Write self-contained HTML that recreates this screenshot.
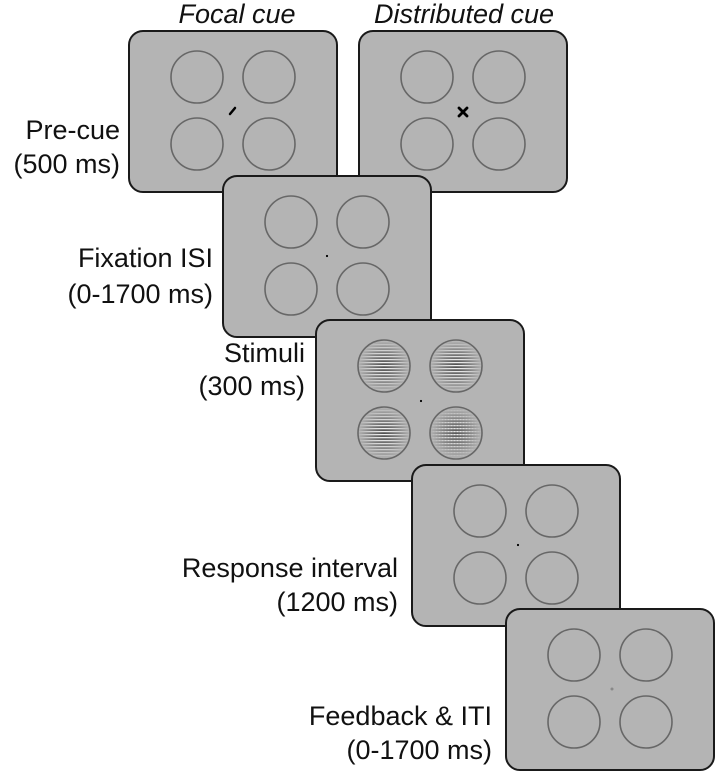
<!DOCTYPE html>
<html><head><meta charset="utf-8"><style>
html,body{margin:0;padding:0;background:#fff;}
svg{display:block;}
text{font-family:"Liberation Sans",sans-serif;fill:#111;}
</style></head><body>
<svg width="718" height="773" viewBox="0 0 718 773" xmlns="http://www.w3.org/2000/svg">
<defs>
  <pattern id="hs" width="6" height="3" patternUnits="userSpaceOnUse">
    <rect width="6" height="3" fill="#b5b5b5"/>
    <rect y="0" width="6" height="1.2" fill="#f4f4f4"/>
    <rect y="1.5" width="6" height="1.2" fill="#222"/>
  </pattern>
  <pattern id="ps" width="3" height="3" patternUnits="userSpaceOnUse">
    <rect width="3" height="3" fill="#b5b5b5"/>
    <rect y="0" width="3" height="1.2" fill="#eee"/>
    <rect y="1.5" width="3" height="1.2" fill="#333"/>
    <rect x="1.5" width="1" height="3" fill="#555" opacity="0.5"/>
  </pattern>
  <radialGradient id="g">
    <stop offset="0" stop-color="#fff" stop-opacity="1"/>
    <stop offset="0.55" stop-color="#fff" stop-opacity="0.5"/>
    <stop offset="1" stop-color="#fff" stop-opacity="0"/>
  </radialGradient>
  <mask id="m" maskContentUnits="objectBoundingBox"><rect width="1" height="1" fill="url(#g)"/></mask>
  <g id="circles" fill="none" stroke="#676767" stroke-width="1.6">
    <circle cx="68" cy="46" r="26"/><circle cx="140" cy="46" r="26"/>
    <circle cx="68" cy="113" r="26"/><circle cx="140" cy="113" r="26"/>
  </g>
  <rect id="pan" x="0" y="0" width="208" height="161" rx="14" fill="#b4b4b4" stroke="#1a1a1a" stroke-width="2"/>
</defs>

<text x="237" y="23" font-size="27" font-style="italic" text-anchor="middle">Focal cue</text>
<text x="464" y="23" font-size="27" font-style="italic" text-anchor="middle">Distributed cue</text>

<text x="120" y="139" font-size="27" text-anchor="end">Pre-cue</text>
<text x="120" y="173" font-size="27" text-anchor="end">(500 ms)</text>
<text x="213" y="267" font-size="27" text-anchor="end">Fixation ISI</text>
<text x="213" y="303" font-size="27" text-anchor="end">(0-1700 ms)</text>
<text x="305" y="362" font-size="27" text-anchor="end">Stimuli</text>
<text x="305" y="395" font-size="27" text-anchor="end">(300 ms)</text>
<text x="398" y="577" font-size="27" text-anchor="end">Response interval</text>
<text x="398" y="611" font-size="27" text-anchor="end">(1200 ms)</text>
<text x="492" y="725" font-size="27" text-anchor="end">Feedback &amp; ITI</text>
<text x="492" y="759" font-size="27" text-anchor="end">(0-1700 ms)</text>

<g transform="translate(129,31)">
  <use href="#pan"/><use href="#circles"/>
  <line x1="101" y1="83" x2="106" y2="77" stroke="#000" stroke-width="2.5" stroke-linecap="round"/>
</g>
<g transform="translate(359,31)">
  <use href="#pan"/><use href="#circles"/>
  <g stroke="#000" stroke-width="2.8" stroke-linecap="round">
    <line x1="100" y1="77" x2="108" y2="85"/><line x1="108" y1="77" x2="100" y2="85"/>
  </g>
</g>
<g transform="translate(223,176)">
  <use href="#pan"/><use href="#circles"/>
  <circle cx="104" cy="80" r="1.1" fill="#000"/>
</g>
<g transform="translate(316,320)">
  <use href="#pan"/>
  <g mask="url(#m)"><rect x="42" y="20" width="52" height="52" fill="url(#hs)"/></g>
  <g mask="url(#m)"><rect x="114" y="20" width="52" height="52" fill="url(#hs)"/></g>
  <g mask="url(#m)"><rect x="42" y="87" width="52" height="52" fill="url(#hs)"/></g>
  <g mask="url(#m)"><rect x="114" y="87" width="52" height="52" fill="url(#ps)"/></g>
  <use href="#circles"/>
  <circle cx="105" cy="81" r="1.1" fill="#000"/>
</g>
<g transform="translate(412,465)">
  <use href="#pan"/><use href="#circles"/>
  <circle cx="106" cy="80" r="1.1" fill="#000"/>
</g>
<g transform="translate(506,609)">
  <use href="#pan"/><use href="#circles"/>
  <circle cx="106" cy="80" r="1.5" fill="#888"/>
</g>
</svg>
</body></html>
